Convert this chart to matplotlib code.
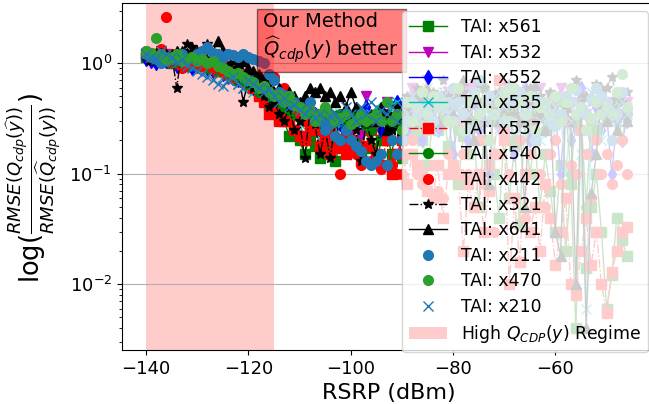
import matplotlib
matplotlib.use("Agg")
import matplotlib.pyplot as plt

# RSRP bins (dBm), one per dB, shared by every TAI
rsrp = list(range(-140, -45))

x561 = [1.15, 1.1, 1.05, 1.2, 1.1, 1.0, 1.05, 1.1, 0.95, 1.0,
        1.05, 0.95, 1.0, 0.9, 0.85, 0.9, 0.8, 0.75, 0.7, 0.72,
        0.65, 0.6, 0.55, 0.5, 0.42, 0.38, 0.32, 0.3, 0.22, 0.25,
        0.2, 0.15, 0.22, 0.18, 0.14, 0.17, 0.2, 0.13, 0.19, 0.22,
        0.16, 0.2, 0.15, 0.25, 0.17, 0.13, 0.2, 0.24, 0.15, 0.28,
        0.14, 0.3, 0.22, 0.35, 0.2, 0.12, 0.28, 0.25, 0.4, 0.18,
        0.3, 0.08, 0.22, 0.15, 0.3, 0.05, 0.2, 0.12, 0.1, 0.04,
        0.25, 0.06, 0.18, 0.035, 0.3, 0.1, 0.2, 0.05, 0.15, 0.07,
        0.03, 0.12, 0.02, 0.08, 0.004, 0.25, 0.014, 0.05, 0.1, 0.03,
        0.006, 0.012, 0.04, 0.025, 0.018]
x532 = [1.2, 1.1, 1.15, 1.3, 1.2, 1.1, 1.15, 1.05, 1.1, 1.0,
        1.05, 1.1, 0.95, 1.0, 0.9, 0.95, 0.85, 0.8, 0.75, 0.8,
        0.7, 0.65, 0.6, 0.62, 0.55, 0.5, 0.45, 0.42, 0.4, 0.35,
        0.38, 0.3, 0.32, 0.28, 0.35, 0.3, 0.25, 0.3, 0.27, 0.3,
        0.25, 0.3, 0.22, 0.5, 0.3, 0.28, 0.35, 0.45, 0.3, 0.4,
        0.35, 0.45, 0.6, 0.4, 0.5, 0.7, 0.45, 0.4, 0.3, 0.55,
        0.45, 0.5, 0.35, 0.6, 0.65, 0.4, 0.3, 0.5, 0.45, 0.25,
        0.55, 0.35, 0.45, 0.3, 0.5, 0.25, 0.4, 0.6, 0.35, 0.5,
        0.4, 0.6, 0.3, 0.45, 0.25, 0.5, 0.35, 0.15, 0.45, 0.55,
        0.3, 0.45, 0.4, 0.35, 0.45]
x552 = [1.1, 1.05, 1.0, 1.2, 1.05, 1.1, 0.95, 1.05, 1.0, 0.9,
        0.95, 1.0, 0.9, 0.85, 0.9, 0.8, 0.75, 0.8, 0.7, 0.72,
        0.68, 0.6, 0.62, 0.55, 0.5, 0.48, 0.45, 0.4, 0.42, 0.35,
        0.38, 0.4, 0.3, 0.35, 0.25, 0.3, 0.35, 0.32, 0.28, 0.3,
        0.3, 0.28, 0.35, 0.4, 0.3, 0.35, 0.25, 0.32, 0.3, 0.45,
        0.3, 0.25, 0.4, 0.35, 0.2, 0.3, 0.4, 0.25, 0.3, 0.35,
        0.15, 0.3, 0.35, 0.2, 0.45, 0.25, 0.3, 0.1, 0.4, 0.5,
        0.25, 0.35, 0.15, 0.3, 0.6, 0.2, 0.35, 0.45, 0.25, 0.3,
        0.35, 0.1, 0.45, 0.2, 0.3, 0.6, 0.35, 0.15, 0.4, 0.25,
        0.35, 0.1, 0.3, 0.2, 0.3]
x535 = [1.2, 1.15, 1.1, 1.2, 1.15, 1.05, 1.0, 1.1, 1.05, 1.1,
        1.0, 0.95, 0.9, 0.85, 0.8, 0.75, 0.7, 0.72, 0.65, 0.6,
        0.62, 0.55, 0.5, 0.45, 0.4, 0.35, 0.38, 0.3, 0.32, 0.25,
        0.28, 0.22, 0.3, 0.25, 0.2, 0.28, 0.3, 0.25, 0.35, 0.3,
        0.3, 0.35, 0.4, 0.3, 0.35, 0.4, 0.3, 0.35, 0.42, 0.45,
        0.35, 0.4, 0.5, 0.3, 0.45, 0.6, 0.25, 0.4, 0.55, 0.35,
        0.4, 0.3, 0.5, 0.35, 0.2, 0.45, 0.3, 0.35, 0.15, 0.4,
        0.3, 0.5, 0.35, 0.25, 0.45, 0.3, 0.6, 0.2, 0.35, 0.25,
        0.4, 0.35, 0.1, 0.3, 0.45, 0.15, 0.006, 0.25, 0.3, 0.2,
        0.35, 0.4, 0.25, 0.35, 0.4]
x537 = [1.2, 1.15, 1.1, 1.25, 1.05, 1.1, 1.0, 1.15, 1.1, 1.05,
        1.1, 1.0, 0.95, 0.9, 0.85, 0.9, 0.8, 0.75, 0.78, 0.7,
        0.65, 0.6, 0.5, 0.45, 0.35, 0.38, 0.3, 0.32, 0.3, 0.25,
        0.22, 0.2, 0.26, 0.25, 0.18, 0.2, 0.15, 0.17, 0.2, 0.15,
        0.2, 0.16, 0.13, 0.18, 0.25, 0.15, 0.12, 0.2, 0.1, 0.15,
        0.2, 0.08, 0.15, 0.12, 0.1, 0.07, 0.06, 0.12, 0.04, 0.1,
        0.12, 0.1, 0.02, 0.08, 0.05, 0.1, 0.03, 0.07, 0.15, 0.7,
        0.2, 0.01, 0.06, 0.016, 0.1, 0.03, 0.05, 0.02, 0.08, 0.04,
        0.015, 0.03, 0.06, 0.01, 0.008, 0.02, 0.04, 0.015, 0.03, 0.01,
        0.0055, 0.013, 0.02, 0.03, 0.033]
x540 = [1.2, 1.15, 1.1, 1.05, 1.1, 1.15, 1.0, 1.05, 0.95, 1.0,
        0.95, 1.0, 0.9, 0.95, 0.85, 0.9, 0.8, 0.78, 0.75, 0.7,
        0.65, 0.62, 0.55, 0.58, 0.5, 0.47, 0.45, 0.4, 0.38, 0.35,
        0.32, 0.3, 0.35, 0.3, 0.28, 0.3, 0.25, 0.3, 0.35, 0.3,
        0.3, 0.35, 0.3, 0.28, 0.25, 0.3, 0.35, 0.3, 0.32, 0.35,
        0.3, 0.4, 0.35, 0.25, 0.3, 0.35, 0.5, 0.4, 0.3, 0.45,
        0.4, 0.25, 0.35, 0.45, 0.3, 0.35, 0.6, 0.4, 0.3, 0.5,
        0.35, 0.4, 0.2, 0.45, 0.5, 0.3, 0.35, 0.45, 0.25, 0.4,
        0.35, 0.45, 0.4, 0.1, 0.3, 0.35, 0.05, 0.3, 0.25, 0.35,
        0.3, 0.4, 0.45, 0.2, 0.35]
x442 = [1.3, 1.25, 1.2, 1.35, 2.6, 1.2, 1.1, 0.9, 1.0, 1.1,
        1.0, 0.95, 1.05, 0.9, 0.95, 0.85, 0.9, 0.8, 0.85, 0.75,
        0.8, 0.7, 0.75, 0.65, 0.6, 0.75, 0.55, 0.6, 0.45, 0.4,
        0.35, 0.3, 0.38, 0.25, 0.3, 0.2, 0.25, 0.22, 0.1, 0.18,
        0.2, 0.15, 0.12, 0.18, 0.13, 0.15, 0.11, 0.2, 0.12, 0.1,
        0.1, 0.15, 0.2, 0.1, 0.08, 0.25, 0.12, 0.07, 0.06, 0.15,
        0.1, 0.3, 0.15, 0.1, 0.05, 0.2, 0.08, 0.12, 0.03, 0.15,
        0.25, 0.1, 0.06, 0.2, 0.04, 0.15, 0.3, 0.1, 0.05, 0.15,
        0.2, 0.08, 0.3, 0.12, 0.1, 0.25, 0.15, 0.06, 0.2, 0.1,
        0.15, 0.08, 0.12, 0.2, 0.1]
x321 = [1.3, 1.2, 1.25, 1.1, 1.15, 1.2, 0.6, 1.3, 1.5, 1.4,
        1.3, 1.2, 1.5, 1.1, 1.0, 0.9, 0.95, 0.85, 0.8, 0.45,
        0.7, 0.6, 0.65, 0.5, 0.4, 0.45, 0.35, 0.3, 0.4, 0.25,
        0.3, 0.14, 0.35, 0.28, 0.15, 0.25, 0.14, 0.3, 0.2, 0.35,
        0.3, 0.25, 0.13, 0.3, 0.2, 0.15, 0.3, 0.35, 0.25, 0.4,
        0.4, 0.5, 0.35, 0.6, 0.45, 0.5, 0.55, 0.4, 0.7, 0.5,
        0.45, 0.6, 0.55, 0.3, 0.5, 0.65, 0.6, 0.5, 0.4, 0.55,
        0.5, 0.65, 0.35, 0.45, 0.55, 0.6, 0.3, 0.5, 0.45, 0.55,
        0.5, 0.3, 0.45, 0.6, 0.7, 0.35, 0.5, 0.45, 0.65, 0.4,
        0.6, 0.75, 0.5, 0.45, 0.55]
x641 = [1.2, 1.1, 1.15, 1.25, 1.2, 1.15, 1.3, 1.2, 1.25, 1.3,
        1.2, 1.3, 1.4, 1.25, 1.6, 1.3, 1.2, 1.1, 1.0, 1.05,
        0.9, 0.85, 0.8, 0.7, 0.65, 0.55, 0.6, 0.5, 0.55, 0.5,
        0.45, 0.5, 0.6, 0.55, 0.6, 0.5, 0.55, 0.45, 0.5, 0.4,
        0.55, 0.4, 0.35, 0.3, 0.35, 0.3, 0.4, 0.25, 0.3, 0.35,
        0.25, 0.4, 0.3, 0.5, 0.35, 0.6, 0.4, 0.3, 0.5, 0.45,
        0.35, 0.5, 0.7, 0.35, 0.2, 0.45, 0.3, 0.08, 0.5, 0.3,
        0.4, 0.35, 0.5, 0.3, 0.05, 0.45, 0.64, 0.35, 0.25, 0.4,
        0.03, 0.018, 0.4, 0.3, 0.01, 0.5, 0.004, 0.067, 0.15, 0.6,
        0.3, 0.45, 0.25, 0.35, 0.3]
x211 = [1.2, 1.15, 1.1, 1.0, 1.05, 1.1, 1.15, 1.2, 1.1, 1.15,
        1.2, 1.3, 1.4, 1.25, 1.2, 1.15, 1.2, 1.18, 1.15, 1.2,
        1.15, 1.1, 1.05, 1.0, 0.8, 0.7, 0.55, 0.52, 0.5, 0.45,
        0.4, 0.38, 0.45, 0.35, 0.3, 0.25, 0.28, 0.22, 0.2, 0.25,
        0.2, 0.18, 0.16, 0.13, 0.12, 0.13, 0.15, 0.12, 0.2, 0.15,
        0.2, 0.3, 0.45, 0.35, 0.55, 0.4, 0.3, 0.5, 0.4, 0.45,
        0.6, 0.45, 0.35, 0.25, 0.55, 0.7, 0.4, 0.5, 0.35, 0.45,
        0.3, 0.6, 0.45, 0.55, 0.35, 0.5, 0.2, 0.45, 0.4, 0.3,
        0.27, 0.35, 0.5, 0.45, 0.57, 0.4, 0.35, 0.47, 0.6, 0.5,
        0.45, 0.2, 0.35, 0.55, 0.39]
x470 = [1.3, 1.25, 1.7, 1.2, 1.1, 1.15, 1.2, 1.05, 1.1, 1.15,
        1.05, 1.1, 1.0, 1.05, 0.95, 0.9, 0.85, 0.8, 0.82, 0.75,
        0.7, 0.68, 0.6, 0.62, 0.55, 0.5, 0.52, 0.45, 0.5, 0.42,
        0.4, 0.35, 0.38, 0.3, 0.35, 0.4, 0.35, 0.3, 0.32, 0.35,
        0.28, 0.3, 0.35, 0.3, 0.32, 0.35, 0.3, 0.45, 0.3, 0.35,
        0.25, 0.45, 0.3, 0.4, 0.55, 0.35, 0.5, 0.4, 0.45, 0.3,
        0.3, 0.6, 0.25, 0.45, 0.5, 0.35, 0.4, 0.2, 0.35, 0.45,
        0.55, 0.3, 0.6, 0.45, 0.35, 0.5, 0.25, 0.4, 0.45, 0.35,
        0.5, 0.3, 0.45, 0.6, 0.35, 0.4, 0.25, 0.32, 0.45, 0.35,
        0.4, 0.35, 0.55, 0.8, 0.4]
x210 = [1.2, 1.15, 1.1, 1.3, 1.2, 1.15, 1.0, 1.1, 0.95, 0.9,
        0.85, 0.8, 0.75, 0.7, 0.65, 0.62, 0.7, 0.75, 0.65, 0.6,
        0.7, 0.65, 0.6, 0.55, 0.58, 0.5, 0.45, 0.48, 0.4, 0.42,
        0.38, 0.35, 0.4, 0.32, 0.35, 0.3, 0.33, 0.35, 0.3, 0.4,
        0.35, 0.3, 0.4, 0.35, 0.45, 0.3, 0.38, 0.35, 0.4, 0.3,
        0.4, 0.35, 0.5, 0.4, 0.3, 0.45, 0.35, 0.4, 0.5, 0.35,
        0.4, 0.3, 0.45, 0.35, 0.5, 0.4, 0.3, 0.45, 0.35, 0.55,
        0.4, 0.3, 0.45, 0.6, 0.35, 0.4, 0.5, 0.3, 0.45, 0.35,
        0.4, 0.35, 0.5, 0.3, 0.45, 0.35, 0.4, 0.55, 0.3, 0.45,
        0.35, 0.4, 0.3, 0.45, 0.35]

# (name, values, fmt, color)
series = [
    ("x561", x561, "s-", "g"),
    ("x532", x532, "v-", "m"),
    ("x552", x552, "d-", "b"),
    ("x535", x535, "x-", "c"),
    ("x537", x537, "s-.", "r"),
    ("x540", x540, "o-", "g"),
    ("x442", x442, "o", "r"),
    ("x321", x321, "*-.", "k"),
    ("x641", x641, "^-", "k"),
    ("x211", x211, "o", "C0"),
    ("x470", x470, "o", "C2"),
    ("x210", x210, "x", "C0"),
]

fig = plt.figure(figsize=(6.49, 4.04), dpi=100)
# the axes runs a little past the right edge, as in the cropped original
ax = fig.add_axes([121.7 / 649, 54 / 404, (656.5 - 121.7) / 649, (350 - 2.7) / 404])

ax.axvspan(-140, -115, color="red", alpha=0.2, lw=0, label=r"High $Q_{CDP}(y)$ Regime")

for name, vals, fmt, col in series:
    ax.plot(rsrp, vals, fmt, color=col, lw=1, ms=7, label="TAI: " + name)

ax.set_yscale("log")
ax.set_xlim(-144.75, -40.25)
ax.set_ylim(0.00254, 3.53)
ax.grid(axis="y", which="major", color="#b0b0b0")

ax.text(-117.07, 2.93, "Our Method\n" + r"$\widehat{Q}_{cdp}(y)$ better",
        fontsize=14, va="top", ha="left",
        bbox=dict(boxstyle="square,pad=0.35", facecolor="red", alpha=0.5))

ax.set_xlabel("RSRP (dBm)", fontsize=16)
ax.set_ylabel(r"$\log(\frac{RMSE(Q_{cdp}(\widehat{y}))}{RMSE(\widehat{Q}_{cdp}(y))})$", fontsize=18.5)
ax.yaxis.label.set_y(0.466)
ax.tick_params(labelsize=13)

# legend lists TAIs first, the shaded regime last
h, l = ax.get_legend_handles_labels()
ax.legend(h[1:] + h[:1], l[1:] + l[:1], loc="upper right", fontsize=12.4,
          labelspacing=0.43, handlelength=2.2)

fig.savefig("out.png", dpi=100)
